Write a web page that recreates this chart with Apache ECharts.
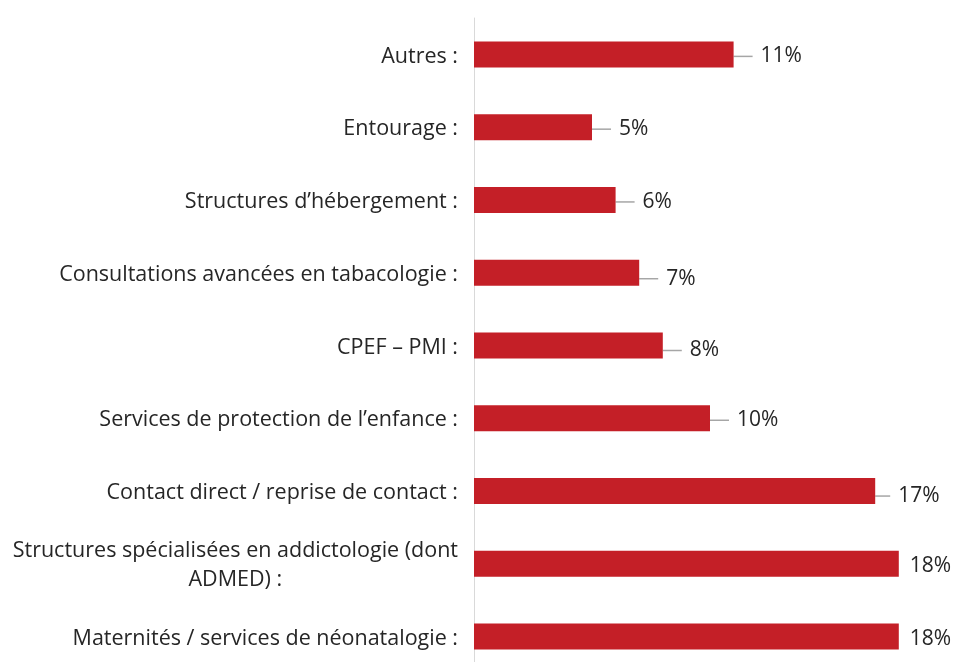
<!DOCTYPE html>
<html>
<head>
<meta charset="utf-8">
<script src="https://cdn.jsdelivr.net/npm/echarts@6/dist/echarts.min.js"></script>
<style>
  html, body { margin: 0; padding: 0; background: #fff; }
  #chart { width: 957px; height: 662px; }
</style>
</head>
<body>
<div id="chart"></div>
<script>
// catégories, du haut vers le bas
var categories = [
  'Autres :',
  'Entourage :',
  'Structures d\u2019hébergement :',
  'Consultations avancées en tabacologie :',
  'CPEF \u2013 PMI :',
  'Services de protection de l\u2019enfance :',
  'Contact direct / reprise de contact :',
  'Structures spécialisées en addictologie (dont\nADMED) :',
  'Maternités / services de néonatalogie :'
]
var values = [11, 5, 6, 7, 8, 10, 17, 18, 18]
// décalage des étiquettes (leader lines)
var labelDx = [8, 8, 8, 8, 8, 8, 4, 0, 0]
var labelDy = [2, 2, 2, 6, 5, 2, 5, 2, 2]
var labelLine = [true, true, true, true, true, true, true, false, false]

var chart = echarts.init(document.getElementById('chart'))
var options = {
  animation: false,
  grid: {
    left: 474,
    top: 18,
    width: 472,
    height: 655,
    outerBoundsMode: 'none',
    containLabel: false
  },
  xAxis: {
    type: 'value',
    min: 0,
    max: 20,
    show: false
  },
  yAxis: {
    type: 'category',
    inverse: true,
    data: categories,
    axisLine: {
      lineStyle: { color: '#d9d9d9', width: 1 }
    },
    axisTick: { show: false },
    axisLabel: {
      margin: 16,
      padding: [4, 0, 0, 0],
      color: '#262626',
      fontFamily: 'Open Sans',
      fontSize: 21.5,
      lineHeight: 29,
      formatter: function (v) {
        return v.split('\n').map(function (s) { return '{c|' + s + '}' }).join('\n')
      },
      rich: {
        c: { align: 'center', color: '#262626', fontFamily: 'Open Sans', fontSize: 21.5, lineHeight: 29 }
      }
    }
  },
  series: [{
    type: 'bar',
    barWidth: 26,
    itemStyle: { color: '#c41f27' },
    data: values.map(function (v, i) {
      return {
        value: v,
        labelLine: { show: labelLine[i] }
      }
    }),
    label: {
      show: true,
      position: 'right',
      distance: 11,
      color: '#262626',
      fontFamily: 'Open Sans',
      fontSize: 21,
      formatter: function (p) {
        return (labelLine[p.dataIndex] ? '{s|}' : '') + '{v|' + p.value + '%}'
      },
      rich: {
        s: { width: 8 },
        v: { color: '#262626', fontFamily: 'Open Sans', fontSize: 21 }
      }
    },
    labelLayout: function (params) {
      var i = params.dataIndex
      return { dx: labelDx[i], dy: labelDy[i] }
    },
    labelLine: {
      show: true,
      lineStyle: { color: '#a6a6a6', width: 1.5 }
    }
  }]
}
chart.setOption(options)
</script>
</body>
</html>
